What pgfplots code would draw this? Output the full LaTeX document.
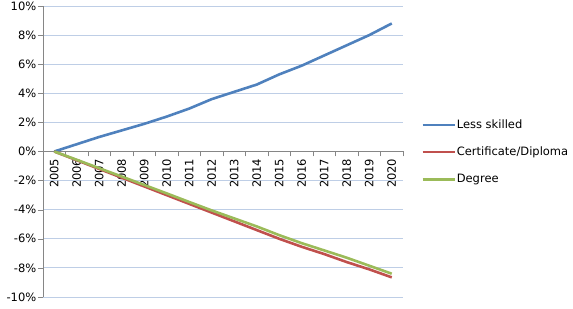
\documentclass[border=0pt]{standalone}
\usepackage{pgfplots}
\pgfplotsset{compat=1.18}
\usepackage{fontspec}
\setmainfont{DejaVu Sans}
\definecolor{cblue}{HTML}{4F81BD}
\definecolor{cred}{HTML}{C0504D}
\definecolor{cgreen}{HTML}{9BBB59}
\definecolor{gridc}{RGB}{190,206,230}
\definecolor{axc}{RGB}{134,134,134}
\newcommand{\lf}{\fontsize{11.5bp}{13bp}\selectfont}
\begin{document}
\begin{tikzpicture}
\begin{axis}[
  at={(0,0)}, anchor=south west,
  scale only axis, width=360bp, height=291bp,
  xmin=-0.5, xmax=15.5, ymin=-10, ymax=10,
  axis x line=middle, axis y line=left,
  every inner x axis line/.append style={-, draw=axc},
  every outer y axis line/.append style={-, draw=axc},
  axis line style={-, draw=axc},
  tick align=outside,
  xtick={0,...,15},
  xticklabels={2005,2006,2007,2008,2009,2010,2011,2012,2013,2014,2015,2016,2017,2018,2019,2020},
  major x tick style={draw=none},
  minor xtick={-0.5,0.5,...,15.5},
  minor x tick style={draw=axc},
  minor tick length=5bp,
  ytick={-10,-8,...,10},
  yticklabel={\pgfmathprintnumber{\tick}\%},
  y tick style={draw=axc},
  major tick length=5bp,
  /pgf/number format/assume math mode=true,
  ymajorgrids, major grid style={draw=gridc, line width=0.8bp},
  x tick label style={rotate=90, anchor=east, font=\lf, inner sep=2bp},
  y tick label style={font=\lf, inner sep=1.5bp},
  legend style={at={(1.05,0.613)}, anchor=north west, draw=none, fill=none, font=\lf, row sep=15bp, inner sep=0pt, nodes={inner sep=1bp}},
  legend cell align=left,
  legend image code/.code={\draw[#1] (0bp,0bp) -- (32bp,0bp);},
  clip=false,
]
\addplot[cblue, line width=2.6bp] coordinates {(0,0) (1,0.5) (2,1.0) (3,1.45) (4,1.9) (5,2.4) (6,2.95) (7,3.6) (8,4.1) (9,4.6) (10,5.3) (11,5.9) (12,6.6) (13,7.3) (14,8.0) (15,8.8)};
\addlegendentry{Less skilled}
\addplot[cred, line width=2.6bp] coordinates {(0,0) (1,-0.6) (2,-1.2) (3,-1.8) (4,-2.4) (5,-3.0) (6,-3.6) (7,-4.2) (8,-4.8) (9,-5.4) (10,-6.0) (11,-6.55) (12,-7.05) (13,-7.6) (14,-8.1) (15,-8.65)};
\addlegendentry{Certificate/Diploma}
\addplot[cgreen, line width=2.6bp] coordinates {(0,0) (1,-0.57) (2,-1.15) (3,-1.72) (4,-2.3) (5,-2.88) (6,-3.47) (7,-4.05) (8,-4.6) (9,-5.15) (10,-5.75) (11,-6.3) (12,-6.8) (13,-7.3) (14,-7.85) (15,-8.4)};
\addlegendentry{Degree}
\end{axis}
\pgfresetboundingbox
\useasboundingbox (-43bp,-12bp) rectangle (530bp,297bp);
\end{tikzpicture}
\end{document}
